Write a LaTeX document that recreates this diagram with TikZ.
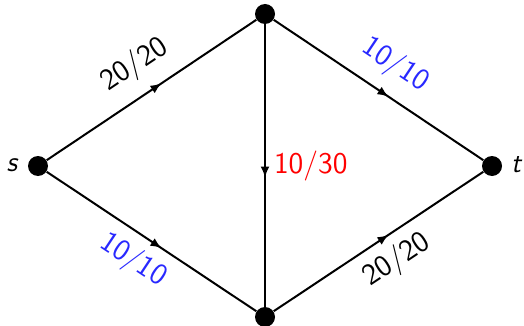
\documentclass[tikz,border=0pt]{standalone}
\usetikzlibrary{decorations.markings,arrows.meta}
\renewcommand{\familydefault}{\sfdefault}
\begin{document}
\begin{tikzpicture}[x=0.5pt,y=-0.5pt,
  vtx/.style={circle,fill=black,inner sep=0pt,minimum size=10pt},
  edge/.style={line width=1pt,postaction={decorate},
    decoration={markings,mark=at position 0.5 with {\arrow[xshift=6pt]{Latex[length=5.5pt,width=4.5pt]}}}},
  lbl/.style={font=\fontsize{15}{17}\selectfont\sffamily},
  vlbl/.style={font=\fontsize{14}{16}\selectfont\sffamily\itshape}]
\useasboundingbox (0,0) rectangle (524,326);
\node[vtx] (s) at (38,166) {};
\node[vtx] (u) at (265,14) {};
\node[vtx] (v) at (265,317) {};
\node[vtx] (t) at (492,166) {};
\node[vlbl] (sl) at (12,165) {s};
\node[vlbl] (tl) at (516,165) {t};
\draw[edge] (s) -- node[lbl,sloped,above,pos=0.5,inner sep=7pt] {20/20} (u);
\draw[edge] (s) -- node[lbl,sloped,below,pos=0.48,inner sep=5pt,text={rgb,255:red,40;green,40;blue,255}] {10/10} (v);
\draw[edge] (u) -- node[lbl,sloped,above,pos=0.5,inner sep=7pt,text={rgb,255:red,40;green,40;blue,255}] {10/10} (t);
\draw[edge] (v) -- node[lbl,sloped,below,pos=0.52,inner sep=5pt] {20/20} (t);
\draw[edge] (u) -- node[lbl,right,pos=0.5,text=red,inner sep=4pt] {10/30} (v);
\end{tikzpicture}
\end{document}
